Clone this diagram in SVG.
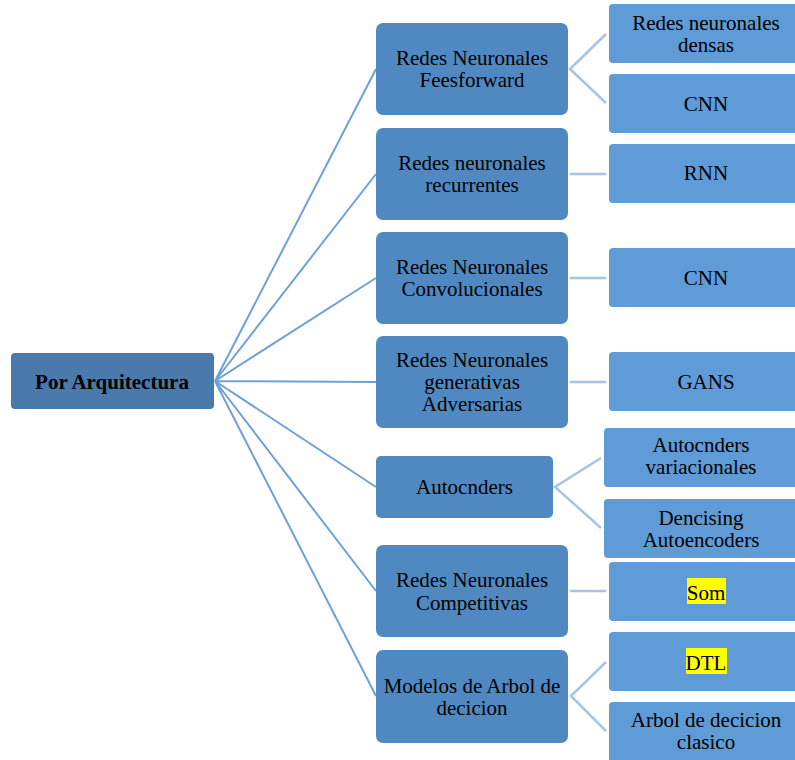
<svg xmlns="http://www.w3.org/2000/svg" width="795" height="760" viewBox="0 0 795 760">
<style>
text{font-family:"Liberation Serif","Times New Roman",serif;font-size:21px;fill:#000;text-anchor:middle}
.root{fill:#4a7aab}
.mid{fill:#5089c1}
.leaf{fill:#5f9bd6}
.c1{stroke:#6fa1d9;stroke-width:2;fill:none}
.c2{stroke:#a8c3e6;stroke-width:2.5;fill:none}
.hl{fill:#ffff00}
</style>
<rect width="795" height="760" fill="#fff"/>
<g id="connectors">
<path class="c1" d="M215 381L376 69M215 381L376 174M215 381L376 278M215 381L376 382M215 381L376 487M215 381L376 591M215 381L376 696"/>
<path class="c2" d="M606 34L570 69L606 103M570 174H606M570 278H606M570 382H606M601 458L555 487L601 528M570 591H606M606 662L571 696L606 731"/>
</g>
<g id="root"><rect class="root" x="11" y="353" width="203" height="56" rx="4"/><text x="112" y="389" font-weight="bold" font-size="21.5">Por Arquitectura</text></g>
<g id="m1"><rect class="mid" x="376" y="23" width="192" height="92" rx="7"/><text x="472" y="65">Redes Neuronales</text><text x="472" y="87">Feesforward</text></g>
<g id="m2"><rect class="mid" x="376" y="128" width="192" height="92" rx="7"/><text x="472" y="170">Redes neuronales</text><text x="472" y="192">recurrentes</text></g>
<g id="m3"><rect class="mid" x="376" y="232" width="192" height="92" rx="7"/><text x="472" y="274">Redes Neuronales</text><text x="472" y="296">Convolucionales</text></g>
<g id="m4"><rect class="mid" x="376" y="336" width="192" height="92" rx="7"/><text x="472" y="367">Redes Neuronales</text><text x="472" y="389">generativas</text><text x="472" y="411">Adversarias</text></g>
<g id="m5"><rect class="mid" x="376" y="456" width="177" height="62" rx="5"/><text x="464.5" y="494">Autocnders</text></g>
<g id="m6"><rect class="mid" x="376" y="545" width="192" height="92" rx="7"/><text x="472" y="587">Redes Neuronales</text><text x="472" y="610">Competitivas</text></g>
<g id="m7"><rect class="mid" x="376" y="650" width="192" height="93" rx="7"/><text x="472" y="693">Modelos de Arbol de</text><text x="472" y="715">decicion</text></g>
<g id="l1"><rect class="leaf" x="609" y="4" width="200" height="59" rx="4"/><text x="706" y="30">Redes neuronales</text><text x="706" y="52">densas</text></g>
<g id="l2"><rect class="leaf" x="609" y="74" width="200" height="59" rx="4"/><text x="706" y="111">CNN</text></g>
<g id="l3"><rect class="leaf" x="609" y="144" width="200" height="59" rx="4"/><text x="706" y="180">RNN</text></g>
<g id="l4"><rect class="leaf" x="609" y="248" width="200" height="59" rx="4"/><text x="706" y="285">CNN</text></g>
<g id="l5"><rect class="leaf" x="609" y="352" width="200" height="59" rx="4"/><text x="706" y="389">GANS</text></g>
<g id="l6"><rect class="leaf" x="604" y="428" width="205" height="59" rx="4"/><text x="701" y="452">Autocnders</text><text x="701" y="474">variacionales</text></g>
<g id="l7"><rect class="leaf" x="604" y="499" width="205" height="59" rx="4"/><text x="701" y="525">Dencising</text><text x="701" y="547">Autoencoders</text></g>
<g id="l8"><rect class="leaf" x="609" y="562" width="200" height="59" rx="4"/><rect class="hl" x="687" y="578" width="39" height="26"/><text x="706" y="600">Som</text></g>
<g id="l9"><rect class="leaf" x="609" y="632" width="200" height="59" rx="4"/><rect class="hl" x="686" y="648" width="41" height="26"/><text x="706" y="670">DTL</text></g>
<g id="l10"><rect class="leaf" x="609" y="702" width="200" height="70" rx="4"/><text x="706" y="727">Arbol de decicion</text><text x="706" y="749">clasico</text></g>
</svg>
